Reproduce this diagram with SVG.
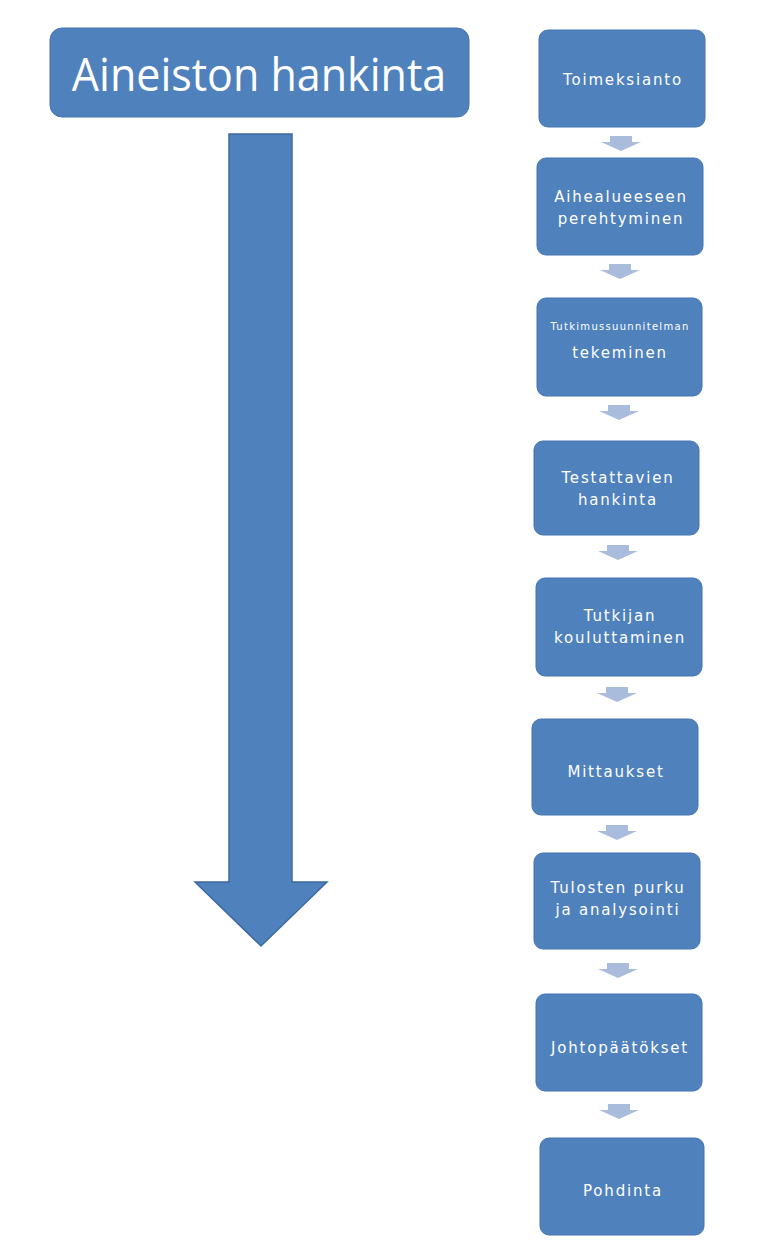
<svg xmlns="http://www.w3.org/2000/svg" width="776" height="1243" viewBox="0 0 776 1243">
<defs>
<style>
.box{fill:#4f81bd;stroke:#4575b0;stroke-width:1}
.t{font-family:"DejaVu Sans","Liberation Sans",sans-serif;fill:#ffffff;text-anchor:middle;font-size:15px;letter-spacing:1.8px}
.title{font-family:"Open Sans","Liberation Sans",sans-serif;fill:#ffffff;text-anchor:middle;font-size:43px}
.sa{fill:#a9bcdc}
</style>
<path id="sm" d="M-11,0 H11 V6 H20 L0,15 L-20,6 H-11 Z"/>
</defs>
<rect width="776" height="1243" fill="#ffffff"/>
<g id="title">
<rect class="box" x="50" y="28" width="419" height="89" rx="12"/>
<text class="title" transform="translate(259,91) scale(1,1.08)">Aineiston hankinta</text>
</g>
<g id="bigarrow">
<path d="M229,134 H292 V882 H327 L261,946 L195,882 H229 Z" fill="#4f81bd" stroke="#3d6a9e" stroke-width="1.5"/>
</g>
<g id="connectors">
<use href="#sm" class="sa" x="621" y="136"/>
<use href="#sm" class="sa" x="620" y="264"/>
<use href="#sm" class="sa" x="619" y="405"/>
<use href="#sm" class="sa" x="618" y="545"/>
<use href="#sm" class="sa" x="617" y="687"/>
<use href="#sm" class="sa" x="617" y="825"/>
<use href="#sm" class="sa" x="618" y="963"/>
<use href="#sm" class="sa" x="619" y="1104"/>
</g>
<g id="n1"><rect class="box" x="539" y="30" width="166" height="97" rx="9"/><text class="t" x="623" y="85">Toimeksianto</text></g>
<g id="n2"><rect class="box" x="537" y="158" width="166" height="97" rx="9"/><text class="t" x="621" y="202">Aihealueeseen</text><text class="t" x="621" y="224">perehtyminen</text></g>
<g id="n3"><rect class="box" x="537" y="298" width="165" height="98" rx="9"/><text class="t" x="620" y="330" style="font-size:10px;letter-spacing:1.3px">Tutkimussuunnitelman</text><text class="t" x="620" y="358">tekeminen</text></g>
<g id="n4"><rect class="box" x="534" y="441" width="165" height="94" rx="9"/><text class="t" x="618" y="483">Testattavien</text><text class="t" x="618" y="505">hankinta</text></g>
<g id="n5"><rect class="box" x="536" y="578" width="166" height="98" rx="9"/><text class="t" x="620" y="621">Tutkijan</text><text class="t" x="620" y="643">kouluttaminen</text></g>
<g id="n6"><rect class="box" x="532" y="719" width="166" height="96" rx="9"/><text class="t" x="616" y="777">Mittaukset</text></g>
<g id="n7"><rect class="box" x="534" y="853" width="166" height="96" rx="9"/><text class="t" x="618" y="893">Tulosten purku</text><text class="t" x="618" y="915">ja analysointi</text></g>
<g id="n8"><rect class="box" x="536" y="994" width="166" height="97" rx="9"/><text class="t" x="620" y="1053">Johtopäätökset</text></g>
<g id="n9"><rect class="box" x="540" y="1138" width="164" height="97" rx="9"/><text class="t" x="623" y="1196">Pohdinta</text></g>
</svg>
